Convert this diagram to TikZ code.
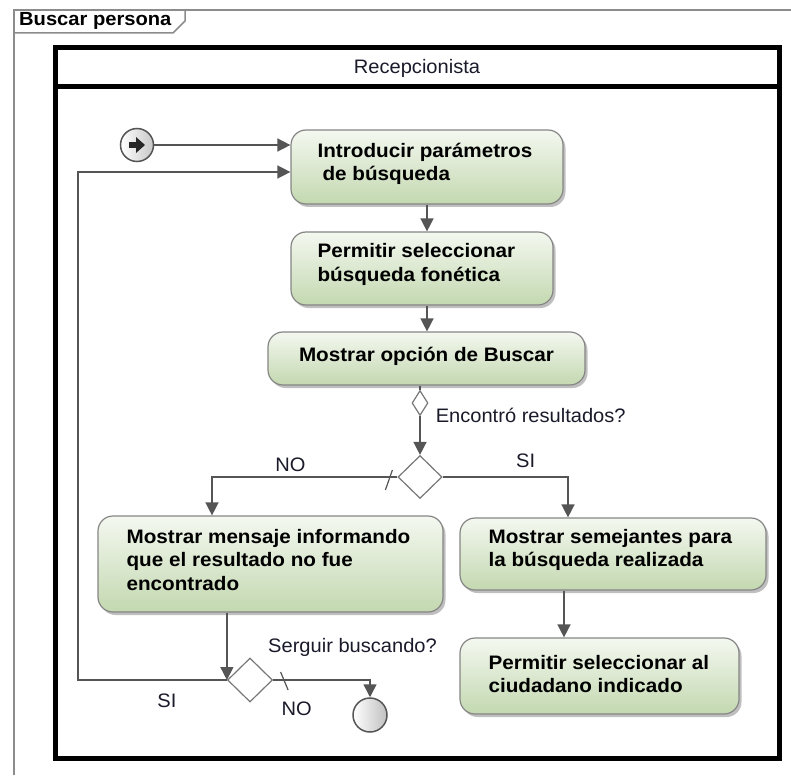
\documentclass[tikz,border=0pt]{standalone}
\usepackage{fontspec}
\setmainfont{Liberation Sans}[FakeStretch=1.03, BoldFeatures={FakeStretch=1.06}]
\usetikzlibrary{shapes.geometric,shadows,arrows.meta}
\definecolor{ln}{HTML}{555555}
\definecolor{boxline}{HTML}{858585}
\definecolor{gtop}{HTML}{F4F8F0}
\definecolor{gbot}{HTML}{C3D8B0}
\definecolor{frm}{HTML}{8C8C8C}
\definecolor{txt}{HTML}{1A1A2A}
\begin{document}
\begin{tikzpicture}[x=1pt,y=-1pt,
  conn/.style={draw=ln, line width=1.5pt},
  arr/.style={conn, -{Triangle[length=13pt,width=13pt]}},
  tick/.style={draw=ln, line width=1.2pt},
  act/.style={rectangle, rounded corners=15pt, draw=boxline, line width=1.2pt,
    top color=gtop, bottom color=gbot, inner sep=0pt,
    drop shadow={shadow xshift=2.5pt, shadow yshift=-3pt, fill=black!50, opacity=0.5}},
  acttext/.style={font=\bfseries\fontsize{19.5}{23.5}\selectfont, align=left, inner sep=0pt, text=black},
  lbl/.style={font=\fontsize{19.5}{23.5}\selectfont, inner sep=0pt, text=txt},
  dec/.style={diamond, draw=ln!80, line width=1.2pt, fill=white, inner sep=0pt},
  frame/.style={draw=frm, line width=1.5pt},
  lane/.style={draw=black, line width=5pt}
]
\useasboundingbox (0,0) rectangle (791,775);

% outer frame with tab
\draw[frame] (14,775) -- (14,10) -- (791,10);
\draw[frame] (14,33) -- (173,33) -- (185,21) -- (185,10);
\node[font=\bfseries\fontsize{19}{22}\selectfont, anchor=west, inner sep=0pt] (title) at (19,21) {Buscar persona};

% swimlane
\draw[lane] (55.5,47.5) rectangle (779,758);
\draw[lane] (55.5,86.5) -- (779,86.5);
\node[lbl] (lanehdr) at (417,68) {Recepcionista};

% activities
\node[act, minimum width=272pt, minimum height=74pt] (b1) at (427,167) {};
\node[acttext, anchor=west] (t1) at ([xshift=27pt,yshift=3pt]b1.west) {Introducir parámetros\\\hspace{5pt}de búsqueda};

\node[act, minimum width=262pt, minimum height=73pt] (b2) at (422,268.5) {};
\node[acttext, anchor=west] (t2) at ([xshift=27pt,yshift=4pt]b2.west) {Permitir seleccionar\\búsqueda fonética};

\node[act, minimum width=317pt, minimum height=53pt] (b3) at (426.5,358.5) {};
\node[acttext] (t3) at ([yshift=2.5pt]b3.center) {Mostrar opción de Buscar};

\node[act, minimum width=345pt, minimum height=96pt] (b5) at (270.5,564) {};
\node[acttext, anchor=west] (t5) at ([xshift=29pt,yshift=4pt]b5.west) {Mostrar mensaje informando\\que el resultado no fue\\encontrado};

\node[act, minimum width=306pt, minimum height=72pt] (b6) at (613,554) {};
\node[acttext, anchor=west] (t6) at ([xshift=29pt,yshift=4pt]b6.west) {Mostrar semejantes para\\la búsqueda realizada};

\node[act, minimum width=279pt, minimum height=76pt] (b7) at (599.5,676) {};
\node[acttext, anchor=west] (t7) at ([xshift=29pt,yshift=2pt]b7.west) {Permitir seleccionar al\\ciudadano indicado};

% decisions
\node[dec, minimum width=16pt, minimum height=25pt] (d1) at (420,403) {};
\node[dec, minimum width=44pt, minimum height=43pt] (d) at (420,477) {};
\node[dec, minimum width=45pt, minimum height=44pt] (d2) at (250,680) {};

% initial node
\node[circle, draw=ln, line width=1.5pt, minimum size=33pt, inner sep=0pt,
      left color=white, right color=black!22] (s) at (137,145) {};
\fill[black!85] ([xshift=-8pt,yshift=-3pt]s.center) rectangle ([xshift=0pt,yshift=3pt]s.center);
\fill[black!85] ([xshift=-1pt,yshift=-8pt]s.center) -- ([xshift=8pt]s.center) -- ([xshift=-1pt,yshift=8pt]s.center) -- cycle;

% final node
\node[circle, draw=ln, line width=1.5pt, minimum size=34pt, inner sep=0pt,
      left color=white, right color=black!25] (f) at (370,715) {};

% loop corner
\coordinate (lc) at (78,172);

% connectors
\draw[arr] (s.east) -- (s.east -| b1.west);
\draw[arr] (b1.south) -- (b1.south |- b2.north);
\draw[arr] (b1.south |- b2.south) -- (b1.south |- b3.north);
\draw[conn] (d1.north |- b3.south) -- (d1.north);
\draw[arr] (d1.south) -- (d.north);
\draw[arr] (d.east) -| ([xshift=-45pt]b6.north);
\draw[arr] (d.west) -| ([xshift=-58.5pt]b5.north);
\draw[arr] ([xshift=-49pt]b6.south) -- ([xshift=-49pt]b6.south |- b7.north);
\draw[arr] (b5.south -| d2.west) -- (d2.west);
\draw[arr] (d2.west) -| (lc) -- (lc -| b1.west);
\draw[arr] (d2.east) -| (f.north);

% guard ticks
\draw[tick] ([xshift=-12pt,yshift=-13pt]d.west) -- ([xshift=-5pt,yshift=7pt]d.west);
\draw[tick] ([xshift=7.5pt,yshift=8pt]d2.east) -- ([xshift=15pt,yshift=-10pt]d2.east);

% labels
\node[lbl, anchor=west] (l1) at ([xshift=7pt,yshift=-12pt]d1.east) {Encontró resultados?};
\node[lbl] (l2) at ([xshift=83pt,yshift=16pt]d.east) {SI};
\node[lbl] (l3) at ([xshift=-107pt,yshift=12pt]d.west) {NO};
\node[lbl, anchor=west] (l4) at ([xshift=18pt,yshift=10pt]d2.north) {Serguir buscando?};
\node[lbl] (l5) at ([xshift=-60pt,yshift=-21pt]d2.west) {SI};
\node[lbl] (l6) at ([xshift=23.5pt,yshift=-29pt]d2.east) {NO};
\end{tikzpicture}
\end{document}
